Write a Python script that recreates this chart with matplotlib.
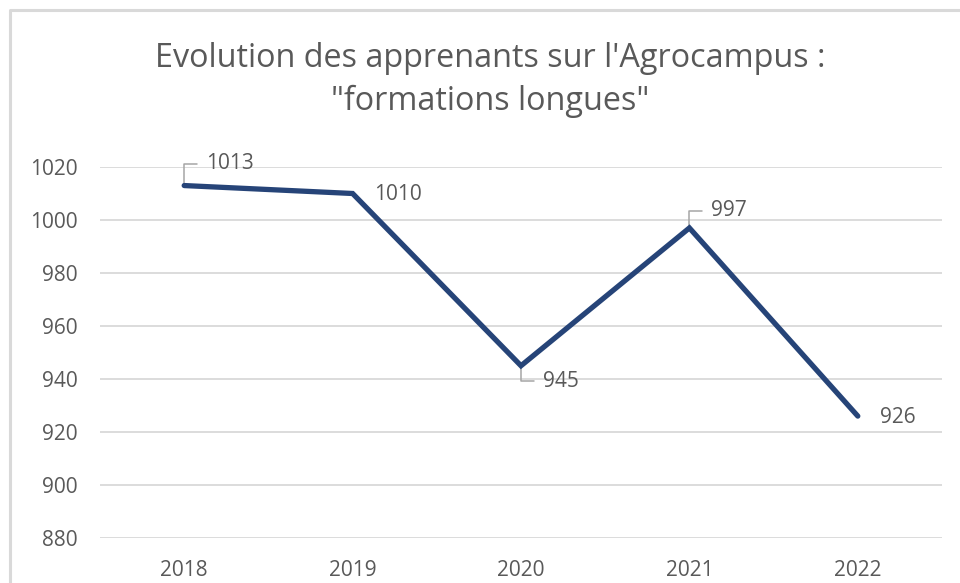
import matplotlib
matplotlib.use("Agg")
import matplotlib.pyplot as plt
from matplotlib.lines import Line2D

plt.rcParams["font.family"] = ["Open Sans", "DejaVu Sans"]

years = ["2018", "2019", "2020", "2021", "2022"]
apprenants = [1013, 1010, 945, 997, 926]
y_ticks = [880, 900, 920, 940, 960, 980, 1000, 1020]

# label placement in pixels: (leader dy, text dx, text dy, draw leader)
label_pos = [(22, 22, 22, True), (0, 21, -1, False), (-15, 22, -16, True),
             (17, 22, 17, True), (0, 22, -1, False)]

LINE = "#264478"
GRID = "#d9d9d9"
TXT = "#595959"
LEAD = "#a6a6a6"

fig = plt.figure(figsize=(9.6, 5.83), dpi=100)
ax = fig.add_axes([100 / 960, 45 / 583, 842 / 960, 371 / 583])

x = list(range(len(years)))
ax.plot(x, apprenants, color=LINE, lw=3.8, solid_capstyle="round",
        solid_joinstyle="miter", zorder=3)

for xi, v, (ldy, tdx, tdy, lead) in zip(x, apprenants, label_pos):
    if lead:
        ax.annotate("", xy=(xi, v), xytext=(13, ldy), textcoords="offset pixels",
                    arrowprops=dict(arrowstyle="-", color=LEAD, lw=1.1,
                                    shrinkA=0, shrinkB=0,
                                    connectionstyle="angle,angleA=0,angleB=90,rad=0"),
                    zorder=2)
    ax.annotate(str(v), (xi, v), xytext=(tdx, tdy), textcoords="offset pixels",
                ha="left", va="center", fontsize=15, color=TXT)

ax.set_xlim(-0.5, len(years) - 0.5)
ax.set_ylim(880, 1020)
ax.set_yticks(y_ticks)
ax.set_xticks(x)
ax.set_xticklabels(years)
ax.tick_params(axis="both", length=0, labelsize=15, labelcolor=TXT)
ax.tick_params(axis="y", pad=16)
ax.tick_params(axis="x", pad=16)
ax.grid(axis="y", color=GRID, lw=1.3)
ax.set_axisbelow(True)
for s in ax.spines.values():
    s.set_visible(False)

fig.text(490 / 960, 1 - 80 / 583,
         "Evolution des apprenants sur l'Agrocampus :\n\"formations longues\"",
         ha="center", va="center", fontsize=23.3, color=TXT, linespacing=1.4)

# chart border (cropped)
fig.add_artist(Line2D([10 / 960, 10 / 960, 1.0], [0, 1 - 10 / 583, 1 - 10 / 583],
                      color=GRID, lw=2.2))

fig.savefig("out.png", dpi=100)
